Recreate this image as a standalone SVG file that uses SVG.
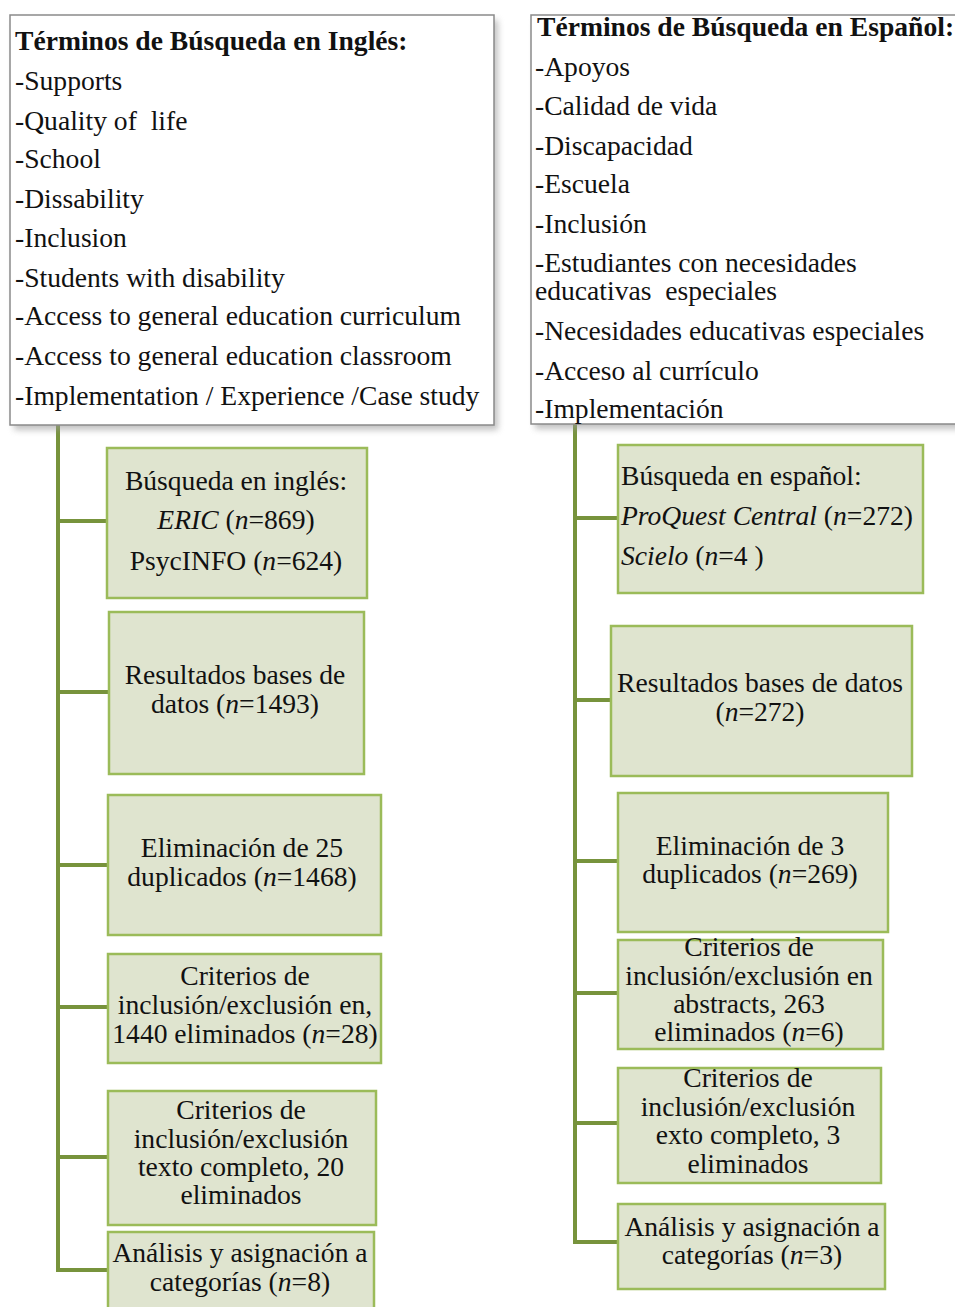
<svg xmlns="http://www.w3.org/2000/svg" width="955" height="1307" viewBox="0 0 955 1307">
<defs>
<filter id="sh" x="-5%" y="-5%" width="115%" height="115%">
<feGaussianBlur stdDeviation="3"/>
</filter>
</defs>
<style>
text{font-family:"Liberation Serif","Times New Roman",serif;font-size:27.6px;fill:#111;white-space:pre;}
.t{font-weight:bold;}
.c{text-anchor:middle;}
.i{font-style:italic;}
.top{fill:#fff;stroke:#8a8a8a;stroke-width:1.5;}
.shadow{fill:#999;opacity:0.6;}
.box{fill:#dfe4cf;stroke:#9bbb59;stroke-width:2.5;}
.con{stroke:#77933c;stroke-width:4;fill:none;}
</style>
<rect width="955" height="1307" fill="#fff"/>
<g id="connectors">
<path class="con" d="M58 425V1272M58 521H107M58 692H109M58 865H108M58 1007H108M58 1157H108M58 1270H108"/>
<path class="con" d="M575 424V1244M575 518H618M575 700H611M575 861H618M575 993H618M575 1123H618M575 1242H618"/>
</g>
<g id="terms-en">
<rect class="shadow" x="14" y="20" width="484" height="410" filter="url(#sh)"/>
<rect class="top" x="10" y="15" width="484" height="410"/>
<text class="t" x="15" y="50">Términos de Búsqueda en Inglés:</text>
<text x="15" y="90">-Supports</text>
<text x="15" y="130">-Quality of  life</text>
<text x="15" y="168">-School</text>
<text x="15" y="208">-Dissability</text>
<text x="15" y="247">-Inclusion</text>
<text x="15" y="287">-Students with disability</text>
<text x="15" y="325">-Access to general education curriculum</text>
<text x="15" y="365">-Access to general education classroom</text>
<text x="15" y="405">-Implementation / Experience /Case study</text>
</g>
<g id="terms-es">
<rect class="shadow" x="535" y="20" width="440" height="409" filter="url(#sh)"/>
<rect class="top" x="531" y="15" width="440" height="409"/>
<text class="t" x="537" y="36">Términos de Búsqueda en Español:</text>
<text x="535" y="76">-Apoyos</text>
<text x="535" y="115">-Calidad de vida</text>
<text x="535" y="155">-Discapacidad</text>
<text x="535" y="193">-Escuela</text>
<text x="535" y="233">-Inclusión</text>
<text x="535" y="272">-Estudiantes con necesidades</text>
<text x="535" y="300">educativas  especiales</text>
<text x="535" y="340">-Necesidades educativas especiales</text>
<text x="535" y="380">-Acceso al currículo</text>
<text x="535" y="418">-Implementación</text>
</g>
<g id="en1">
<rect class="box" x="107" y="448" width="260" height="150"/>
<text class="c" x="236" y="490">Búsqueda en inglés:</text>
<text class="c" x="236" y="529"><tspan class="i">ERIC</tspan> (<tspan class="i">n</tspan>=869)</text>
<text class="c" x="236" y="570">PsycINFO (<tspan class="i">n</tspan>=624)</text>
</g>
<g id="en2">
<rect class="box" x="109" y="612" width="255" height="162"/>
<text class="c" x="235" y="684">Resultados bases de</text>
<text class="c" x="235" y="713">datos (<tspan class="i">n</tspan>=1493)</text>
</g>
<g id="en3">
<rect class="box" x="108" y="795" width="273" height="140"/>
<text class="c" x="242" y="857">Eliminación de 25</text>
<text class="c" x="242" y="886">duplicados (<tspan class="i">n</tspan>=1468)</text>
</g>
<g id="en4">
<rect class="box" x="108" y="954" width="273" height="109"/>
<text class="c" x="245" y="985">Criterios de</text>
<text class="c" x="245" y="1014">inclusión/exclusión en,</text>
<text class="c" x="245" y="1043">1440 eliminados (<tspan class="i">n</tspan>=28)</text>
</g>
<g id="en5">
<rect class="box" x="108" y="1091" width="268" height="134"/>
<text class="c" x="241" y="1119">Criterios de</text>
<text class="c" x="241" y="1148">inclusión/exclusión</text>
<text class="c" x="241" y="1176">texto completo, 20</text>
<text class="c" x="241" y="1204">eliminados</text>
</g>
<g id="en6">
<rect class="box" x="108" y="1232" width="266" height="90"/>
<text class="c" x="240" y="1262">Análisis y asignación a</text>
<text class="c" x="240" y="1291">categorías (<tspan class="i">n</tspan>=8)</text>
</g>
<g id="es1">
<rect class="box" x="618" y="445" width="305" height="148"/>
<text x="621" y="485">Búsqueda en español:</text>
<text x="621" y="525"><tspan class="i">ProQuest Central</tspan> (<tspan class="i">n</tspan>=272)</text>
<text x="621" y="565"><tspan class="i">Scielo</tspan> (<tspan class="i">n</tspan>=4 )</text>
</g>
<g id="es2">
<rect class="box" x="611" y="626" width="301" height="150"/>
<text class="c" x="760" y="692">Resultados bases de datos</text>
<text class="c" x="760" y="721">(<tspan class="i">n</tspan>=272)</text>
</g>
<g id="es3">
<rect class="box" x="618" y="793" width="270" height="139"/>
<text class="c" x="750" y="855">Eliminación de 3</text>
<text class="c" x="750" y="883">duplicados (<tspan class="i">n</tspan>=269)</text>
</g>
<g id="es4">
<rect class="box" x="618" y="940" width="265" height="109"/>
<text class="c" x="749" y="956">Criterios de</text>
<text class="c" x="749" y="985">inclusión/exclusión en</text>
<text class="c" x="749" y="1013">abstracts, 263</text>
<text class="c" x="749" y="1041">eliminados (<tspan class="i">n</tspan>=6)</text>
</g>
<g id="es5">
<rect class="box" x="618" y="1068" width="263" height="115"/>
<text class="c" x="748" y="1087">Criterios de</text>
<text class="c" x="748" y="1116">inclusión/exclusión</text>
<text class="c" x="748" y="1144">exto completo, 3</text>
<text class="c" x="748" y="1173">eliminados</text>
</g>
<g id="es6">
<rect class="box" x="618" y="1204" width="267" height="85"/>
<text class="c" x="752" y="1236">Análisis y asignación a</text>
<text class="c" x="752" y="1264">categorías (<tspan class="i">n</tspan>=3)</text>
</g>
</svg>
